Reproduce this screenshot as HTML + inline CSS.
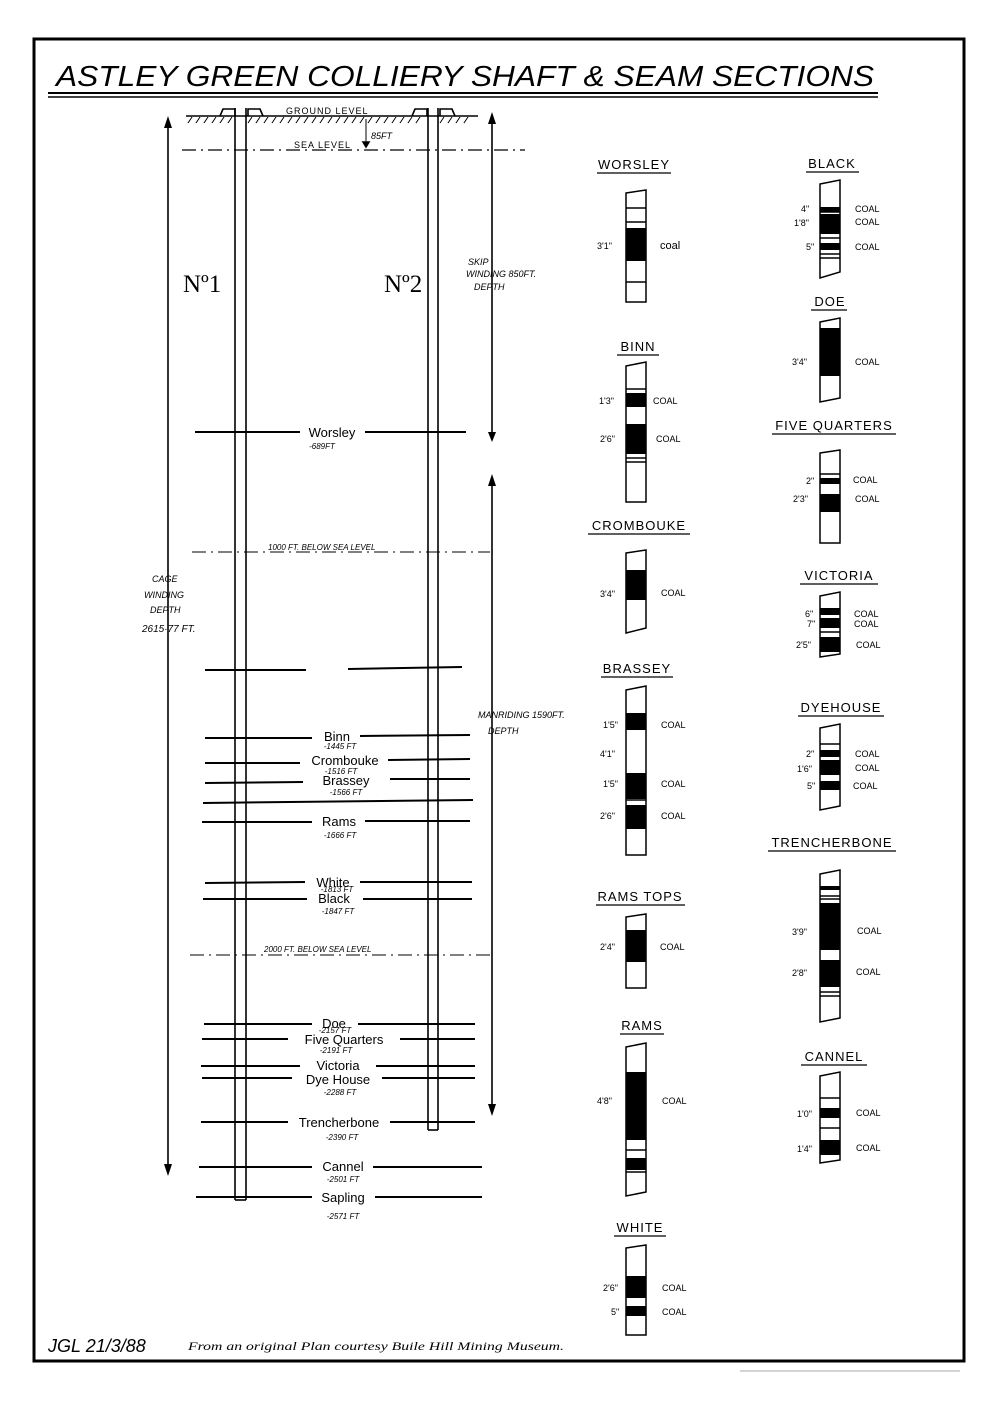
<!DOCTYPE html>
<html><head><meta charset="utf-8"><style>
html,body{margin:0;padding:0;background:#fff}
svg{display:block}
text{font-family:"Liberation Sans",sans-serif;fill:#000}
.t{font-size:13px;letter-spacing:1px}
.s{font-size:9px}
.l{font-size:13px}
.d{font-size:8px;font-style:italic}
</style></head><body>
<svg width="1000" height="1401" viewBox="0 0 1000 1401" xmlns="http://www.w3.org/2000/svg">
<rect x="0" y="0" width="1000" height="1401" fill="#fff"/>
<rect x="34" y="39" width="930" height="1322" fill="none" stroke="#000" stroke-width="3"/>
<line x1="740" y1="1371" x2="960" y2="1371" stroke="#aaa" stroke-width="1"/>
<text x="56" y="86" textLength="818" lengthAdjust="spacingAndGlyphs" style="font-size:29px;font-style:italic">ASTLEY GREEN COLLIERY SHAFT &amp; SEAM SECTIONS</text>
<line x1="48" y1="93" x2="878" y2="93" stroke="#000" stroke-width="2"/>
<line x1="48" y1="97" x2="878" y2="97" stroke="#000" stroke-width="1.5"/>

<g stroke="#000" fill="none" stroke-width="1.6">
<line x1="186" y1="116" x2="478" y2="116"/>
<path d="M188,123 l4,-6 M196,123 l4,-6 M204,123 l4,-6 M212,123 l4,-6 M220,123 l4,-6 M228,123 l4,-6 M248,123 l4,-6 M256,123 l4,-6 M264,123 l4,-6 M272,123 l4,-6 M280,123 l4,-6 M288,123 l4,-6 M296,123 l4,-6 M304,123 l4,-6 M312,123 l4,-6 M320,123 l4,-6 M328,123 l4,-6 M336,123 l4,-6 M344,123 l4,-6 M352,123 l4,-6 M360,123 l4,-6 M368,123 l4,-6 M376,123 l4,-6 M384,123 l4,-6 M392,123 l4,-6 M400,123 l4,-6 M408,123 l4,-6 M416,123 l4,-6 M440,123 l4,-6 M448,123 l4,-6 M456,123 l4,-6 M464,123 l4,-6" stroke-width="1"/>
<path d="M220,116 l3,-7 h12 v7 M248,116 v-7 h12 l3,7 M412,116 l3,-7 h12 v7 M440,116 v-7 h12 l3,7"/>
<line x1="182" y1="150" x2="525" y2="150" stroke-dasharray="14,5,2,5" stroke-width="1.2"/>
<line x1="366" y1="119" x2="366" y2="146" stroke-width="1"/>
<path d="M363,142 l3,5 l3,-5z" fill="#000"/>
<line x1="235" y1="108" x2="235" y2="1200"/>
<line x1="246" y1="108" x2="246" y2="1200"/>
<line x1="235" y1="1200" x2="246" y2="1200"/>
<line x1="428" y1="108" x2="428" y2="1130"/>
<line x1="438" y1="108" x2="438" y2="1130"/>
<line x1="428" y1="1130" x2="438" y2="1130"/>
<line x1="168" y1="122" x2="168" y2="1172"/>
<line x1="492" y1="120" x2="492" y2="436"/>
<line x1="492" y1="484" x2="492" y2="1108"/>
<line x1="192" y1="552" x2="490" y2="552" stroke-dasharray="14,5,2,5" stroke-width="1"/>
<line x1="190" y1="955" x2="492" y2="955" stroke-dasharray="14,5,2,5" stroke-width="1"/>
<g stroke-width="2">
<line x1="195" y1="432" x2="300" y2="432"/><line x1="365" y1="432" x2="466" y2="432"/>
<line x1="205" y1="670" x2="306" y2="670"/><line x1="348" y1="669" x2="462" y2="667"/>
<line x1="205" y1="738" x2="312" y2="738"/><line x1="360" y1="736" x2="470" y2="735"/>
<line x1="205" y1="763" x2="300" y2="763"/><line x1="388" y1="760" x2="470" y2="759"/>
<line x1="205" y1="783" x2="303" y2="782"/><line x1="390" y1="779" x2="470" y2="779"/>
<line x1="203" y1="803" x2="473" y2="800"/>
<line x1="202" y1="822" x2="312" y2="822"/><line x1="365" y1="821" x2="470" y2="821"/>
<line x1="205" y1="883" x2="305" y2="882"/><line x1="360" y1="882" x2="472" y2="882"/>
<line x1="203" y1="899" x2="307" y2="899"/><line x1="363" y1="899" x2="472" y2="899"/>
<line x1="204" y1="1024" x2="312" y2="1024"/><line x1="358" y1="1024" x2="475" y2="1024"/>
<line x1="202" y1="1039" x2="288" y2="1039"/><line x1="400" y1="1039" x2="475" y2="1039"/>
<line x1="201" y1="1066" x2="300" y2="1066"/><line x1="376" y1="1066" x2="475" y2="1066"/>
<line x1="202" y1="1078" x2="292" y2="1078"/><line x1="382" y1="1078" x2="475" y2="1078"/>
<line x1="201" y1="1122" x2="288" y2="1122"/><line x1="390" y1="1122" x2="475" y2="1122"/>
<line x1="199" y1="1167" x2="312" y2="1167"/><line x1="373" y1="1167" x2="482" y2="1167"/>
<line x1="196" y1="1197" x2="312" y2="1197"/><line x1="375" y1="1197" x2="482" y2="1197"/>
</g>
</g>
<path d="M164,128 l4,-12 l4,12z M164,1164 l4,12 l4,-12z M488,124 l4,-12 l4,12z M488,432 l4,10 l4,-10z M488,486 l4,-12 l4,12z M488,1104 l4,12 l4,-12z" fill="#000"/>
<text x="286" y="114" class="s" style="letter-spacing:1px">GROUND LEVEL</text>
<text x="371" y="139" class="s" style="font-style:italic">85FT</text>
<text x="294" y="148" class="s" style="letter-spacing:1px">SEA LEVEL</text>
<text x="183" y="292" style="font-size:25px;font-family:'Liberation Serif',serif">Nº1</text>
<text x="384" y="292" style="font-size:25px;font-family:'Liberation Serif',serif">Nº2</text>
<text x="468" y="265" class="s" style="font-style:italic">SKIP</text>
<text x="466" y="277" class="s" style="font-style:italic">WINDING 850FT.</text>
<text x="474" y="290" class="s" style="font-style:italic">DEPTH</text>
<text x="152" y="582" class="s" style="font-style:italic">CAGE</text>
<text x="144" y="598" class="s" style="font-style:italic">WINDING</text>
<text x="150" y="613" class="s" style="font-style:italic">DEPTH</text>
<text x="142" y="632" style="font-size:10px;font-style:italic">2615·77 FT.</text>
<text x="478" y="718" class="s" style="font-style:italic">MANRIDING 1590FT.</text>
<text x="488" y="734" class="s" style="font-style:italic">DEPTH</text>
<text x="268" y="550" class="d">1000 FT. BELOW SEA LEVEL</text>
<text x="264" y="952" class="d">2000 FT. BELOW SEA LEVEL</text>
<g class="l" text-anchor="middle">
<text x="332" y="437" class="l">Worsley</text><text x="322" y="449" class="d">-689FT</text>
<text x="337" y="741" class="l">Binn</text><text x="340" y="749" class="d">-1445 FT</text>
<text x="345" y="765" class="l">Crombouke</text><text x="341" y="774" class="d">-1516 FT</text>
<text x="346" y="785" class="l">Brassey</text><text x="346" y="795" class="d">-1566 FT</text>
<text x="339" y="826" class="l">Rams</text><text x="340" y="838" class="d">-1666 FT</text>
<text x="333" y="887" class="l">White</text><text x="337" y="892" class="d">-1813 FT</text>
<text x="334" y="903" class="l">Black</text><text x="338" y="914" class="d">-1847 FT</text>
<text x="334" y="1028" class="l">Doe</text><text x="335" y="1033" class="d">-2157 FT</text>
<text x="344" y="1044" class="l">Five Quarters</text><text x="336" y="1053" class="d">-2191 FT</text>
<text x="338" y="1070" class="l">Victoria</text>
<text x="338" y="1084" class="l">Dye House</text><text x="340" y="1095" class="d">-2288 FT</text>
<text x="339" y="1127" class="l">Trencherbone</text><text x="342" y="1140" class="d">-2390 FT</text>
<text x="343" y="1171" class="l">Cannel</text><text x="343" y="1182" class="d">-2501 FT</text>
<text x="343" y="1202" class="l">Sapling</text><text x="343" y="1219" class="d">-2571 FT</text>
</g>
<text x="48" y="1352" style="font-size:18px;font-style:italic">JGL 21/3/88</text>
<text x="188" y="1350" textLength="376" lengthAdjust="spacingAndGlyphs" style="font-size:12px;font-style:italic;font-family:'Liberation Serif',serif">From an original Plan courtesy Buile Hill Mining Museum.</text>

<g stroke="#000" stroke-width="1.5" fill="none">
<path d="M626,193 L646,190 L646,302 L626,302Z"/><path d="M626,208H646M626,222H646M626,282H646"/>
<path d="M626,366 L646,362 L646,502 L626,502Z"/><path d="M626,389H646M626,458H646M626,462H646"/>
<path d="M626,553 L646,550 L646,628 L626,633Z"/>
<path d="M626,690 L646,686 L646,855 L626,855Z"/><path d="M626,800H646"/>
<path d="M626,917 L646,914 L646,988 L626,988Z"/>
<path d="M626,1047 L646,1043 L646,1192 L626,1196Z"/><path d="M626,1150H646M626,1172H646"/>
<path d="M626,1248 L646,1245 L646,1335 L626,1335Z"/>
<path d="M820,184 L840,180 L840,272 L820,278Z"/><path d="M820,212H840M820,238H840M820,254H840M820,258H840"/>
<path d="M820,322 L840,318 L840,398 L820,402Z"/>
<path d="M820,453 L840,450 L840,543 L820,543Z"/><path d="M820,474H840"/>
<path d="M820,596 L840,592 L840,654 L820,657Z"/><path d="M820,632H840"/>
<path d="M820,728 L840,724 L840,806 L820,810Z"/><path d="M820,744H840"/>
<path d="M820,874 L840,870 L840,1018 L820,1022Z"/><path d="M820,896H840M820,899H840M820,992H840M820,996H840"/>
<path d="M820,1076 L840,1072 L840,1160 L820,1163Z"/><path d="M820,1098H840M820,1128H840"/>
</g>
<g fill="#000">
<rect x="626" y="228" width="20" height="33"/>
<rect x="626" y="393" width="20" height="14"/><rect x="626" y="424" width="20" height="30"/>
<rect x="626" y="570" width="20" height="30"/>
<rect x="626" y="713" width="20" height="17"/><rect x="626" y="773" width="20" height="26"/><rect x="626" y="805" width="20" height="24"/>
<rect x="626" y="930" width="20" height="32"/>
<rect x="626" y="1072" width="20" height="68"/><rect x="626" y="1158" width="20" height="12"/>
<rect x="626" y="1276" width="20" height="22"/><rect x="626" y="1306" width="20" height="10"/>
<rect x="820" y="207" width="20" height="5"/><rect x="820" y="214" width="20" height="20"/><rect x="820" y="243" width="20" height="7"/>
<rect x="820" y="328" width="20" height="48"/>
<rect x="820" y="478" width="20" height="6"/><rect x="820" y="494" width="20" height="18"/>
<rect x="820" y="608" width="20" height="7"/><rect x="820" y="618" width="20" height="10"/><rect x="820" y="637" width="20" height="15"/>
<rect x="820" y="750" width="20" height="7"/><rect x="820" y="760" width="20" height="15"/><rect x="820" y="781" width="20" height="9"/>
<rect x="820" y="886" width="20" height="4"/><rect x="820" y="903" width="20" height="47"/><rect x="820" y="960" width="20" height="27"/>
<rect x="820" y="1108" width="20" height="10"/><rect x="820" y="1140" width="20" height="15"/>
</g>
<g class="t" text-anchor="middle">
<text x="634" y="169">WORSLEY</text><text x="638" y="351">BINN</text><text x="639" y="530">CROMBOUKE</text>
<text x="637" y="673">BRASSEY</text><text x="640" y="901">RAMS TOPS</text><text x="642" y="1030">RAMS</text><text x="640" y="1232">WHITE</text>
<text x="832" y="168">BLACK</text><text x="830" y="306">DOE</text><text x="834" y="430">FIVE QUARTERS</text>
<text x="839" y="580">VICTORIA</text><text x="841" y="712">DYEHOUSE</text><text x="832" y="847">TRENCHERBONE</text><text x="834" y="1061">CANNEL</text>
</g>
<g stroke="#000" stroke-width="1.3">
<line x1="597" y1="173" x2="671" y2="173"/><line x1="617" y1="355" x2="659" y2="355"/><line x1="588" y1="534" x2="690" y2="534"/>
<line x1="601" y1="677" x2="673" y2="677"/><line x1="596" y1="905" x2="685" y2="905"/><line x1="620" y1="1034" x2="664" y2="1034"/><line x1="614" y1="1236" x2="666" y2="1236"/>
<line x1="806" y1="172" x2="859" y2="172"/><line x1="811" y1="310" x2="847" y2="310"/><line x1="772" y1="434" x2="896" y2="434"/>
<line x1="800" y1="584" x2="878" y2="584"/><line x1="798" y1="716" x2="884" y2="716"/><line x1="768" y1="851" x2="896" y2="851"/><line x1="801" y1="1065" x2="867" y2="1065"/>
</g>
<g class="s">
<text x="597" y="249">3'1"</text><text x="660" y="249" style="font-size:11px">coal</text>
<text x="599" y="404">1'3"</text><text x="653" y="404">COAL</text>
<text x="600" y="442">2'6"</text><text x="656" y="442">COAL</text>
<text x="600" y="597">3'4"</text><text x="661" y="596">COAL</text>
<text x="603" y="728">1'5"</text><text x="661" y="728">COAL</text>
<text x="600" y="757">4'1"</text>
<text x="603" y="787">1'5"</text><text x="661" y="787">COAL</text>
<text x="600" y="819">2'6"</text><text x="661" y="819">COAL</text>
<text x="600" y="950">2'4"</text><text x="660" y="950">COAL</text>
<text x="597" y="1104">4'8"</text><text x="662" y="1104">COAL</text>
<text x="603" y="1291">2'6"</text><text x="662" y="1291">COAL</text>
<text x="611" y="1315">5"</text><text x="662" y="1315">COAL</text>
<text x="801" y="212">4"</text><text x="855" y="212">COAL</text>
<text x="794" y="226">1'8"</text><text x="855" y="225">COAL</text>
<text x="806" y="250">5"</text><text x="855" y="250">COAL</text>
<text x="792" y="365">3'4"</text><text x="855" y="365">COAL</text>
<text x="806" y="484">2"</text><text x="853" y="483">COAL</text>
<text x="793" y="502">2'3"</text><text x="855" y="502">COAL</text>
<text x="805" y="617">6"</text><text x="854" y="617">COAL</text>
<text x="807" y="627">7"</text><text x="854" y="627">COAL</text>
<text x="796" y="648">2'5"</text><text x="856" y="648">COAL</text>
<text x="806" y="757">2"</text><text x="855" y="757">COAL</text>
<text x="797" y="772">1'6"</text><text x="855" y="771">COAL</text>
<text x="807" y="789">5"</text><text x="853" y="789">COAL</text>
<text x="792" y="935">3'9"</text><text x="857" y="934">COAL</text>
<text x="792" y="976">2'8"</text><text x="856" y="975">COAL</text>
<text x="797" y="1117">1'0"</text><text x="856" y="1116">COAL</text>
<text x="797" y="1152">1'4"</text><text x="856" y="1151">COAL</text>
</g>
</svg>
</body></html>
